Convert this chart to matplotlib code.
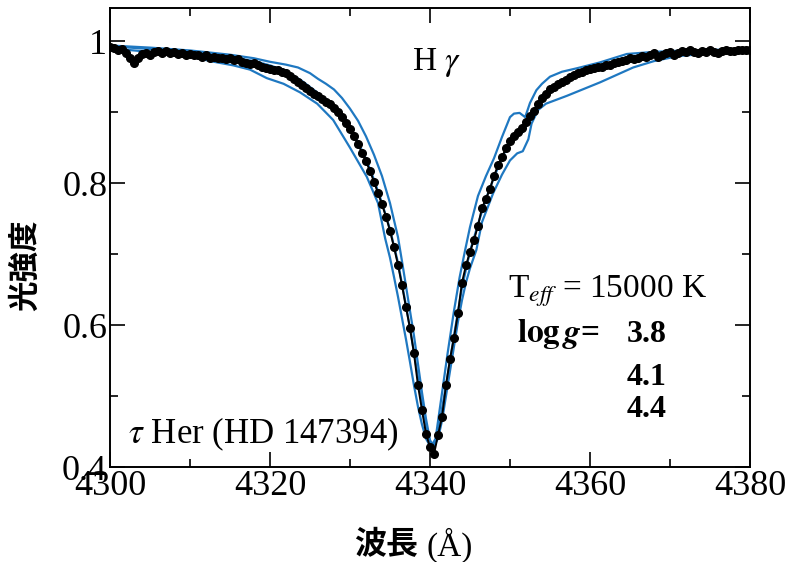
import numpy as np
import matplotlib
matplotlib.use('Agg')
import matplotlib.pyplot as plt
from matplotlib.ticker import MultipleLocator, FuncFormatter

plt.rcParams['font.family'] = ['Liberation Serif', 'Noto Sans CJK JP', 'DejaVu Sans']
plt.rcParams['mathtext.fontset'] = 'stix'

# observed profile, tau Her, sampled every 0.5 A from 4300 to 4380
obs_wl = np.arange(4300.0, 4380.01, 0.5)
obs_flux = [
    0.992, 0.990, 0.987, 0.989, 0.984, 0.976, 0.969, 0.976, 0.982, 0.984,
    0.981, 0.985, 0.986, 0.983, 0.986, 0.984, 0.985, 0.982, 0.984, 0.981,
    0.982, 0.980, 0.981, 0.978, 0.980, 0.977, 0.978, 0.976, 0.977, 0.975,
    0.976, 0.974, 0.975, 0.971, 0.970, 0.968, 0.969, 0.966, 0.964, 0.962,
    0.961, 0.960, 0.959, 0.957, 0.955, 0.951, 0.947, 0.943, 0.939, 0.934,
    0.930, 0.926, 0.923, 0.919, 0.915, 0.911, 0.906, 0.900, 0.893, 0.885,
    0.876, 0.866, 0.855, 0.843, 0.831, 0.817, 0.802, 0.786, 0.770, 0.753,
    0.733, 0.710, 0.685, 0.656, 0.625, 0.596, 0.560, 0.515, 0.480, 0.447,
    0.428, 0.418, 0.445, 0.470, 0.515, 0.552, 0.582, 0.617, 0.660, 0.684,
    0.703, 0.720, 0.740, 0.765, 0.778, 0.792, 0.810, 0.825, 0.837, 0.849,
    0.859, 0.866, 0.872, 0.878, 0.886, 0.894, 0.902, 0.912, 0.920, 0.926,
    0.932, 0.936, 0.940, 0.943, 0.946, 0.949, 0.952, 0.955, 0.957, 0.959,
    0.961, 0.962, 0.964, 0.964, 0.967, 0.966, 0.970, 0.971, 0.972, 0.974,
    0.976, 0.975, 0.977, 0.979, 0.978, 0.981, 0.983, 0.978, 0.980, 0.984,
    0.985, 0.981, 0.983, 0.986, 0.985, 0.987, 0.985, 0.984, 0.986, 0.985,
    0.987, 0.985, 0.984, 0.986, 0.988, 0.986, 0.986, 0.988, 0.987, 0.988,
    0.987,
]

# model profiles, Teff = 15000 K
wl_38 = [4300, 4305, 4310, 4315, 4318, 4320, 4322, 4323.5, 4325, 4326, 4327, 4328,
         4329, 4330, 4331, 4332, 4333, 4334, 4335, 4336, 4336.5, 4337,
         4337.5, 4338, 4338.5, 4339, 4339.5, 4340, 4340.3, 4340.7, 4341.2, 4341.7,
         4342.2, 4343, 4343.7, 4344.4, 4345, 4346, 4347, 4348, 4349, 4350, 4350.5,
         4351.2, 4351.9, 4352.5, 4353.3, 4354, 4355, 4356.5, 4358.4, 4361.2, 4364.6,
         4368, 4372, 4376, 4380]
flux_38 = [0.994, 0.991, 0.987, 0.981, 0.976, 0.971, 0.967, 0.963, 0.955, 0.947, 0.940,
           0.932, 0.920, 0.905, 0.888, 0.866, 0.840, 0.810, 0.772, 0.724, 0.690,
           0.655, 0.620, 0.585, 0.545, 0.505, 0.468, 0.438, 0.432, 0.440, 0.480, 0.520,
           0.560, 0.620, 0.667, 0.706, 0.738, 0.782, 0.810, 0.835, 0.865, 0.893, 0.898,
           0.899, 0.893, 0.913, 0.931, 0.940, 0.950, 0.957, 0.962, 0.970, 0.982,
           0.985, 0.987, 0.988, 0.988]

wl_41 = [4300, 4305, 4310, 4315, 4318, 4320, 4322, 4324, 4326, 4328, 4330, 4331, 4332,
         4333, 4334, 4335, 4336, 4337, 4338, 4339, 4339.5, 4340, 4340.3, 4340.7,
         4341.2, 4342, 4343, 4344, 4345, 4346, 4347, 4348, 4349, 4350, 4350.8,
         4351.6, 4352.3, 4353, 4354, 4356, 4358, 4360, 4362, 4365, 4368, 4372,
         4376, 4380]
flux_41 = [0.993, 0.989, 0.985, 0.978, 0.972, 0.966, 0.958, 0.944, 0.927, 0.908, 0.878,
           0.858, 0.834, 0.805, 0.772, 0.735, 0.688, 0.628, 0.562, 0.490, 0.455, 0.435,
           0.430, 0.437, 0.462, 0.515, 0.585, 0.653, 0.704, 0.742, 0.778, 0.808, 0.836,
           0.858, 0.868, 0.872, 0.886, 0.904, 0.918, 0.936, 0.951, 0.960, 0.967, 0.976,
           0.981, 0.985, 0.987, 0.987]

wl_44 = [4300, 4305, 4308, 4311, 4313, 4315.4, 4317.5, 4319.6, 4321.7, 4323.75, 4325.9,
         4327.9, 4330, 4332.1, 4333.5, 4334.4, 4335, 4335.5, 4336, 4336.5, 4337, 4337.5,
         4338, 4338.5, 4339, 4339.5, 4340, 4340.4, 4341, 4341.5, 4342, 4342.5, 4343,
         4343.5, 4344, 4344.5, 4345, 4345.8, 4346.5, 4347.9, 4349, 4350, 4350.9,
         4351.6, 4352.3, 4352.7, 4353.5, 4354.5, 4357.1, 4361.25, 4365.4, 4368, 4371,
         4375, 4380]
flux_44 = [0.990, 0.985, 0.982, 0.976, 0.971, 0.966, 0.960, 0.948, 0.940, 0.928, 0.912,
           0.889, 0.850, 0.809, 0.772, 0.722, 0.695, 0.668, 0.640, 0.610, 0.580, 0.548,
           0.515, 0.485, 0.460, 0.440, 0.430, 0.428, 0.440, 0.465, 0.500, 0.535, 0.570,
           0.605, 0.635, 0.660, 0.680, 0.706, 0.745, 0.786, 0.812, 0.832, 0.842,
           0.845, 0.862, 0.884, 0.903, 0.912, 0.923, 0.942, 0.963, 0.972, 0.979,
           0.983, 0.985]

blue = '#1f78c1'

fig = plt.figure(figsize=(7.97, 5.62), dpi=100)
ax = fig.add_axes([0.138, 0.169, 0.803, 0.817])

for w, f in [(wl_38, flux_38), (wl_41, flux_41), (wl_44, flux_44)]:
    ax.plot(w, f, color=blue, lw=1.6, zorder=2)
ax.plot(obs_wl, obs_flux, color='black', lw=1.4, marker='o', ms=5.5,
        mec='black', mfc='black', zorder=3)

ax.set_xlim(4300, 4380)
ax.set_ylim(0.4, 1.047)
ax.xaxis.set_major_locator(MultipleLocator(20))
ax.xaxis.set_minor_locator(MultipleLocator(10))
ax.yaxis.set_major_locator(MultipleLocator(0.2))
ax.yaxis.set_minor_locator(MultipleLocator(0.1))
ax.yaxis.set_major_formatter(FuncFormatter(lambda v, p: '1' if abs(v - 1) < 1e-6 else f'{v:.1f}'))
ax.tick_params(which='both', direction='in', top=True, right=True, width=1.2)
ax.tick_params(which='major', length=11, labelsize=26, pad=2)
ax.tick_params(which='minor', length=6)
for s in ax.spines.values():
    s.set_linewidth(1.4)

ax.text(4337.75, 0.959, r'H $\gamma$', fontsize=24, va='baseline')
ax.text(4349.75, 0.6394, r'T$_{\mathit{eff}}$ = 15000 K', fontsize=24, va='baseline')
ax.text(4350.9, 0.576, r'$\mathbf{log}\,\mathbfit{g}$=', fontsize=24, va='baseline', fontweight='bold')
ax.text(4364.6, 0.576, '3.8', fontsize=23, va='baseline', fontweight='bold')
ax.text(4364.6, 0.5155, '4.1', fontsize=23, va='baseline', fontweight='bold')
ax.text(4364.6, 0.4704, '4.4', fontsize=23, va='baseline', fontweight='bold')
ax.text(4302.3, 0.434, r'$\tau$ Her (HD 147394)', fontsize=25, va='baseline')

fig.text(25 / 797, 1 - 265 / 562, '光強度', rotation=90, fontsize=22, fontweight='bold',
         family='Noto Sans CJK JP', ha='center', va='center')
fig.text(418 / 797, 1 - 545 / 562, '波長', fontsize=23, fontweight='bold',
         family='Noto Sans CJK JP', ha='right', va='center')
fig.text(426 / 797, 1 - 545 / 562, '(Å)', fontsize=24, ha='left', va='center')

fig.savefig('out.png', dpi=100)
